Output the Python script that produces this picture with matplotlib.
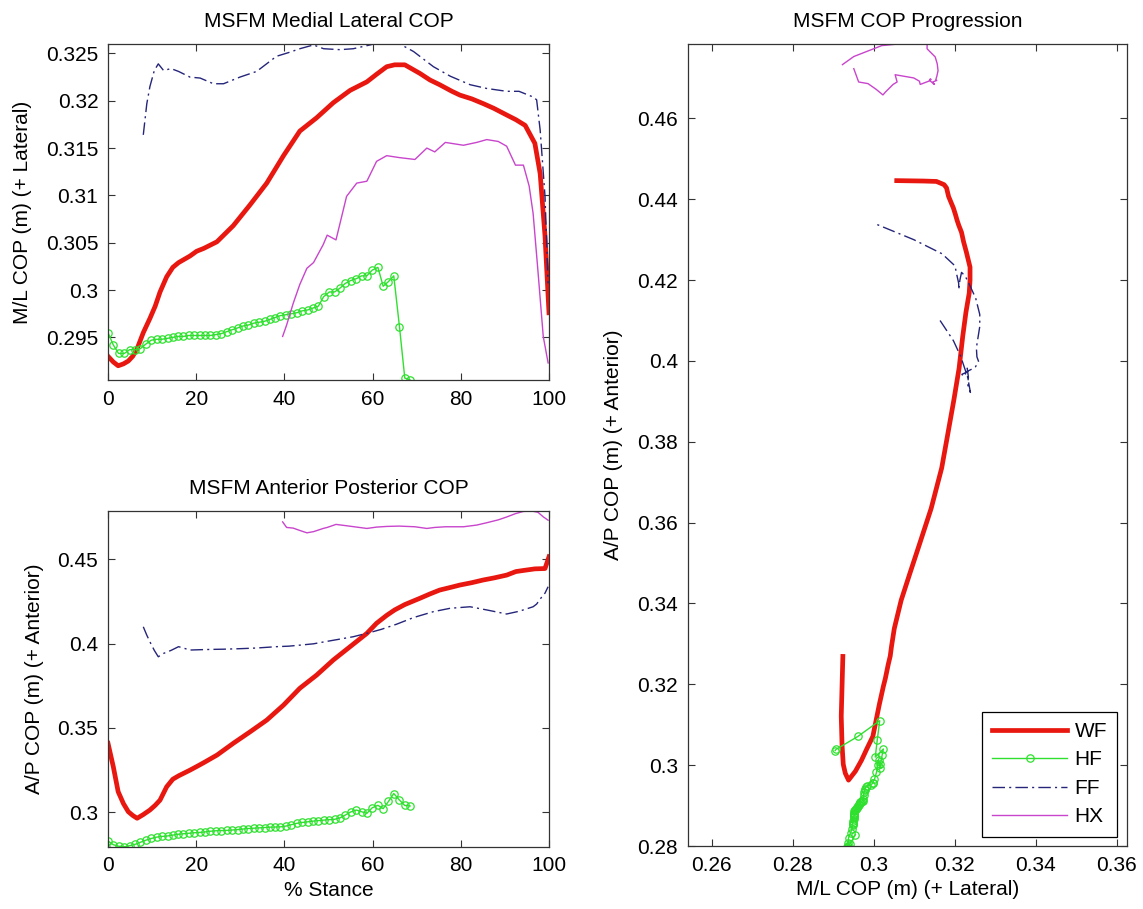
import matplotlib
matplotlib.use('Agg')
import matplotlib.pyplot as plt

plt.rcParams['font.family'] = ['Liberation Sans', 'DejaVu Sans']

# ---------------- data ----------------
series_names = ['WF', 'HF', 'FF', 'HX']

# WF (thick red)
wf_x = [0, 1.2, 2.3, 3.5, 4.6, 5.6, 6.6, 8.0, 9.5, 10.7, 11.8, 13.3, 14.7, 16.0,
        18.6, 20.1, 21.7, 24.7, 28.4, 32.2, 36.0, 39.8, 43.5, 47.3, 51.1, 54.9,
        58.7, 60.9, 63.2, 65.0, 67.3, 70.7, 73.0, 75.2, 78.0, 79.8, 82.5, 85.1,
        87.5, 90.4, 92.5, 94.6, 96.8, 98.0, 99.1, 100]
wf_ml = [0.2930, 0.2924, 0.2920, 0.2922, 0.2925, 0.2930, 0.2938, 0.2955, 0.2970,
         0.2983, 0.2998, 0.3014, 0.3024, 0.3029, 0.3036, 0.3041, 0.3044, 0.3051,
         0.3068, 0.3090, 0.3113, 0.3142, 0.3168, 0.3182, 0.3198, 0.3211, 0.3220,
         0.3228, 0.3236, 0.3238, 0.3238, 0.3229, 0.3222, 0.3217, 0.3210, 0.3206,
         0.3202, 0.3197, 0.3192, 0.3185, 0.3180, 0.3174, 0.3155, 0.3123, 0.3057,
         0.2976]
wf_ap = [0.3408, 0.3269, 0.3121, 0.3050, 0.3002, 0.2980, 0.2963, 0.2985, 0.3012,
         0.3040, 0.3071, 0.3150, 0.3195, 0.3215, 0.3249, 0.3270, 0.3293, 0.3338,
         0.3408, 0.3476, 0.3546, 0.3635, 0.3735, 0.3813, 0.3903, 0.3982, 0.4061,
         0.4121, 0.4168, 0.4200, 0.4232, 0.4269, 0.4295, 0.4318, 0.4336, 0.4348,
         0.4362, 0.4378, 0.4390, 0.4407, 0.4428, 0.4436, 0.4444, 0.4445, 0.4446,
         0.4516]

# HF (green with circles)
hf_x = [0, 1.2, 2.4, 3.7, 4.9, 6.1, 7.3, 8.6, 9.8, 11.0,
        12.2, 13.5, 14.7, 15.9, 17.1, 18.3, 19.6, 20.8, 22.0, 23.2,
        24.5, 25.7, 26.9, 28.1, 29.4, 30.6, 31.8, 33.0, 34.3, 35.5,
        36.7, 37.9, 39.1, 40.4, 41.6, 42.8, 44.0, 45.3, 46.5, 47.7,
        48.9, 50.2, 51.4, 52.6, 53.8, 55.0, 56.3, 57.5, 58.7, 59.9,
        61.2, 62.4, 63.6, 64.8, 66.1, 67.3, 68.5]
hf_ml = [0.2955, 0.2942, 0.2933, 0.2933, 0.2937, 0.2937, 0.2938, 0.2943, 0.2947, 0.2948,
         0.2948, 0.2949, 0.2950, 0.2951, 0.2951, 0.2952, 0.2952, 0.2952, 0.2952, 0.2952,
         0.2953, 0.2954, 0.2956, 0.2958, 0.2960, 0.2962, 0.2963, 0.2965, 0.2966, 0.2967,
         0.2969, 0.2971, 0.2973, 0.2974, 0.2975, 0.2976, 0.2978, 0.2979, 0.2981, 0.2983,
         0.2993, 0.2998, 0.2998, 0.3002, 0.3007, 0.3010, 0.3012, 0.3015, 0.3015, 0.3021,
         0.3024, 0.3004, 0.3009, 0.3015, 0.2961, 0.2907, 0.2905]
hf_ap = [0.2828, 0.2806, 0.2797, 0.2794, 0.2800, 0.2808, 0.2820, 0.2833, 0.2843, 0.2851,
         0.2855, 0.2858, 0.2863, 0.2868, 0.2871, 0.2874, 0.2877, 0.2879, 0.2882, 0.2886,
         0.2889, 0.2890, 0.2891, 0.2893, 0.2896, 0.2899, 0.2902, 0.2904, 0.2906, 0.2908,
         0.2910, 0.2911, 0.2912, 0.2917, 0.2925, 0.2933, 0.2938, 0.2942, 0.2946, 0.2949,
         0.2952, 0.2955, 0.2957, 0.2965, 0.2982, 0.3000, 0.3012, 0.3002, 0.2992, 0.3025,
         0.3040, 0.3020, 0.3063, 0.3110, 0.3071, 0.3039, 0.3036]

# FF (navy dash-dot)
ff_x = [8.0, 8.8, 9.5, 10.5, 11.4, 12.6, 14.3, 16.0, 18.6, 20.9, 23.9, 26.2, 29.9,
        33.7, 38.2, 41.0, 43.5, 46.6, 48.9, 52.6, 55.6, 59.4, 62.0, 65.4, 69.3,
        73.8, 77.6, 82.1, 85.9, 90.4, 93.2, 96.4, 97.2, 98.0, 99.1, 99.8]
ff_ml = [0.3164, 0.3197, 0.3215, 0.3232, 0.3239, 0.3232, 0.3234, 0.3231, 0.3225,
         0.3224, 0.3218, 0.3218, 0.3225, 0.3231, 0.3247, 0.3251, 0.3255, 0.3259,
         0.3255, 0.3254, 0.3255, 0.3259, 0.3262, 0.3262, 0.3252, 0.3236, 0.3226,
         0.3217, 0.3213, 0.3210, 0.3210, 0.3204, 0.3201, 0.3169, 0.3099, 0.3007]
ff_ap = [0.4100, 0.4050, 0.4011, 0.3960, 0.3922, 0.3942, 0.3960, 0.3982, 0.3962,
         0.3964, 0.3966, 0.3967, 0.3970, 0.3974, 0.3982, 0.3985, 0.3991, 0.3999,
         0.4010, 0.4027, 0.4041, 0.4066, 0.4085, 0.4115, 0.4155, 0.4190, 0.4210,
         0.4219, 0.4200, 0.4176, 0.4192, 0.4219, 0.4235, 0.4265, 0.4300, 0.4338]

# HX (magenta)
hx_x = [39.6, 40.5, 42.0, 43.5, 45.1, 46.6, 48.8, 49.7, 51.7, 54.1, 56.4, 58.7,
        60.9, 63.2, 66.0, 69.6, 72.3, 74.1, 76.5, 80.6, 83.6, 85.9, 88.5, 90.4,
        92.4, 94.2, 95.5, 96.4, 97.5, 98.7, 99.8]
hx_ml = [0.2951, 0.2963, 0.2986, 0.3006, 0.3023, 0.3029, 0.3048, 0.3058, 0.3053,
         0.3099, 0.3113, 0.3115, 0.3136, 0.3142, 0.3140, 0.3138, 0.3150, 0.3146,
         0.3156, 0.3153, 0.3156, 0.3159, 0.3157, 0.3152, 0.3132, 0.3132, 0.3110,
         0.3081, 0.3020, 0.2951, 0.2923]
hx_ap = [0.4723, 0.4690, 0.4686, 0.4672, 0.4658, 0.4665, 0.4684, 0.4690, 0.4708,
         0.4700, 0.4692, 0.4684, 0.4692, 0.4696, 0.4698, 0.4694, 0.4684, 0.4690,
         0.4694, 0.4694, 0.4704, 0.4718, 0.4735, 0.4752, 0.4772, 0.4785, 0.4787,
         0.4786, 0.4780, 0.4753, 0.4733]

# ticks
stance_ticks = [0, 20, 40, 60, 80, 100]
ml_ticks = [0.295, 0.300, 0.305, 0.310, 0.315, 0.320, 0.325]
ml_labels = ['0.295', '0.3', '0.305', '0.31', '0.315', '0.32', '0.325']
ap_ticks = [0.30, 0.35, 0.40, 0.45]
ap_labels = ['0.3', '0.35', '0.4', '0.45']
prog_xticks = [0.26, 0.28, 0.30, 0.32, 0.34, 0.36]
prog_xlabels = ['0.26', '0.28', '0.3', '0.32', '0.34', '0.36']
prog_yticks = [0.28, 0.30, 0.32, 0.34, 0.36, 0.38, 0.40, 0.42, 0.44, 0.46]
prog_ylabels = ['0.28', '0.3', '0.32', '0.34', '0.36', '0.38', '0.4', '0.42', '0.44', '0.46']

# ---------------- styling ----------------
FS = 15
C_WF = '#e8170f'
C_HF = '#2fe02f'
C_FF = '#25257a'
C_HX = '#c845cc'
SP = '#333333'

st_wf = dict(color=C_WF, lw=3.4, solid_joinstyle='round')
st_hf = dict(color=C_HF, lw=1.0, marker='o', markersize=5.3, mfc='none', mec=C_HF, mew=0.9)
st_ff = dict(color=C_FF, lw=1.0, linestyle=(0, (9, 3, 1.5, 3)))
st_hx = dict(color=C_HX, lw=1.0)

fig = plt.figure(figsize=(11.43, 9.09), dpi=100)
ax1 = fig.add_axes([0.0945, 0.582, 0.3858, 0.3696])
ax2 = fig.add_axes([0.0945, 0.0685, 0.3858, 0.3696])
ax3 = fig.add_axes([0.6017, 0.0693, 0.3841, 0.8823])


def style(ax):
    ax.tick_params(direction='in', top=True, right=True, length=5, width=0.8,
                   labelsize=FS, pad=7, color=SP)
    for s in ax.spines.values():
        s.set_color(SP)
        s.set_linewidth(0.9)


# Top-left: M/L COP over stance
ax1.plot(wf_x, wf_ml, label=series_names[0], **st_wf)
ax1.plot(hf_x, hf_ml, label=series_names[1], **st_hf)
ax1.plot(ff_x, ff_ml, label=series_names[2], **st_ff)
ax1.plot(hx_x, hx_ml, label=series_names[3], **st_hx)
ax1.set_xlim(0, 100)
ax1.set_ylim(0.2905, 0.3260)
ax1.set_xticks(stance_ticks)
ax1.set_xticklabels([str(t) for t in stance_ticks])
ax1.set_yticks(ml_ticks)
ax1.set_yticklabels(ml_labels)
ax1.set_title('MSFM Medial Lateral COP', fontsize=FS, pad=12)
ax1.set_ylabel('M/L COP (m) (+ Lateral)', fontsize=FS, labelpad=10)
style(ax1)

# Bottom-left: A/P COP over stance
ax2.plot(wf_x, wf_ap, **st_wf)
ax2.plot(hf_x, hf_ap, **st_hf)
ax2.plot(ff_x, ff_ap, **st_ff)
ax2.plot(hx_x, hx_ap, **st_hx)
ax2.set_xlim(0, 100)
ax2.set_ylim(0.2794, 0.4789)
ax2.set_xticks(stance_ticks)
ax2.set_xticklabels([str(t) for t in stance_ticks])
ax2.set_yticks(ap_ticks)
ax2.set_yticklabels(ap_labels)
ax2.set_title('MSFM Anterior Posterior COP', fontsize=FS, pad=12)
ax2.set_ylabel('A/P COP (m) (+ Anterior)', fontsize=FS, labelpad=10)
ax2.set_xlabel('% Stance', fontsize=FS, labelpad=4)
style(ax2)

# Right: COP progression
ax3.plot(wf_ml[1:-1], wf_ap[1:-1], label=series_names[0], **st_wf)
ax3.plot(hf_ml, hf_ap, label=series_names[1], **st_hf)
ax3.plot(ff_ml, ff_ap, label=series_names[2], **st_ff)
ax3.plot(hx_ml, hx_ap, label=series_names[3], **st_hx)
ax3.set_xlim(0.2541, 0.3625)
ax3.set_ylim(0.2800, 0.4784)
ax3.set_xticks(prog_xticks)
ax3.set_xticklabels(prog_xlabels)
ax3.set_yticks(prog_yticks)
ax3.set_yticklabels(prog_ylabels)
ax3.set_title('MSFM COP Progression', fontsize=FS, pad=12)
ax3.set_xlabel('M/L COP (m) (+ Lateral)', fontsize=FS, labelpad=4)
ax3.set_ylabel('A/P COP (m) (+ Anterior)', fontsize=FS, labelpad=10)
style(ax3)
leg = ax3.legend(loc='lower right', fontsize=FS, fancybox=False, framealpha=1,
                 edgecolor='black', handlelength=3.6, handletextpad=0.35,
                 labelspacing=0.45, borderaxespad=0.45, borderpad=0.5)
leg.get_frame().set_linewidth(0.9)

fig.savefig('out.png', dpi=100)
